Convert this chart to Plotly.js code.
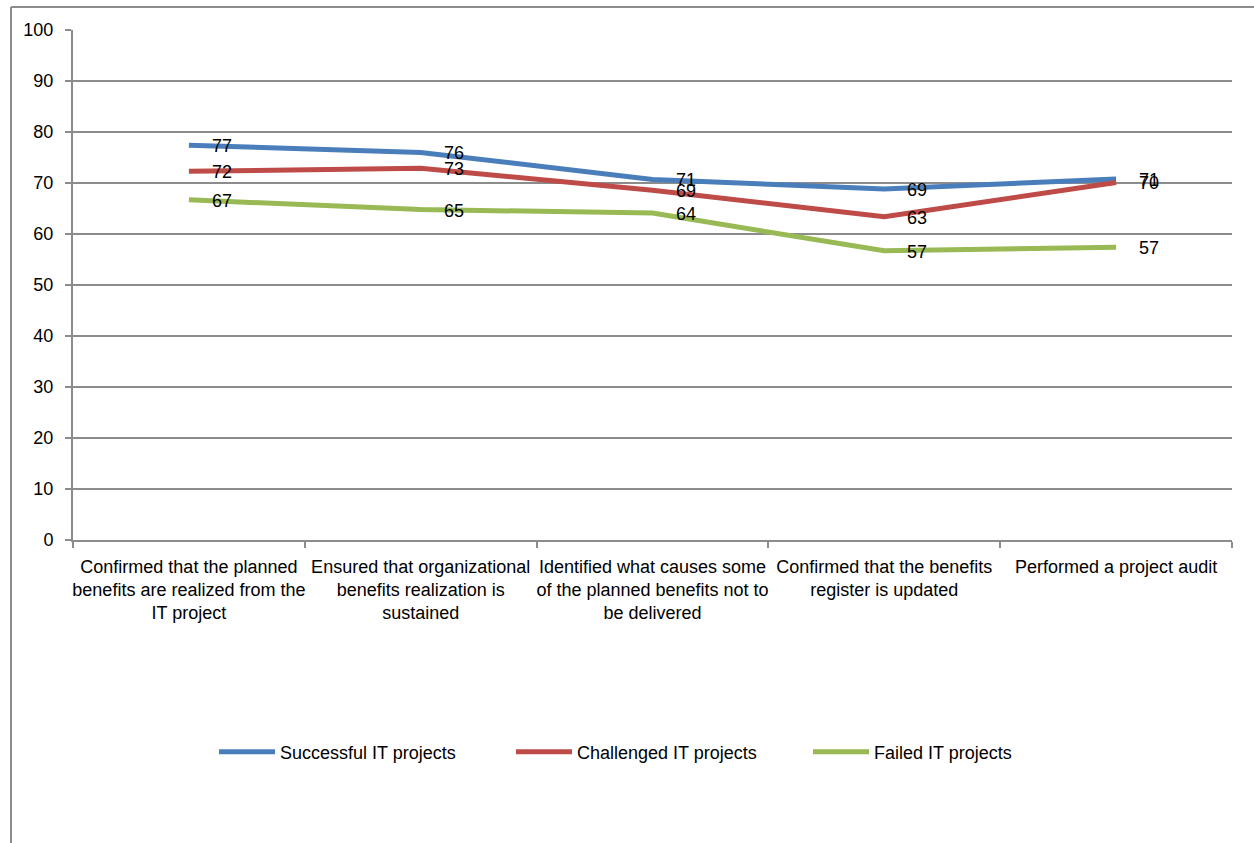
<!DOCTYPE html>
<html>
<head>
<meta charset="utf-8">
<script src="https://cdn.plot.ly/plotly-3.0.1.min.js"></script>
<style>html,body{margin:0;padding:0;background:#fff;}#chart{width:1254px;height:843px;}</style>
</head>
<body>
<div id="chart"></div>
<script>
// ---- data ----
const categories = [
  "Confirmed that the planned<br>benefits are realized from the<br>IT project",
  "Ensured that organizational<br>benefits realization is<br>sustained",
  "Identified what causes some<br>of the planned benefits not to<br>be delivered",
  "Confirmed that the benefits<br>register is updated",
  "Performed a project audit"
];
const seriesNames = ["Successful IT projects", "Challenged IT projects", "Failed IT projects"];
const successful = [77.4, 76.0, 70.7, 68.8, 70.8];
const challenged = [72.3, 72.9, 68.6, 63.4, 70.1];
const failed     = [66.7, 64.8, 64.1, 56.7, 57.4];
const yTicks = [0, 10, 20, 30, 40, 50, 60, 70, 80, 90, 100];

// ---- styling ----
const colors = ["#4A7EBB", "#BE4B48", "#98B954"];
const gridColor = "#8C8C8C";
const FONT = "Liberation Sans, Arial, sans-serif";
const W = 1254, H = 843;
const M = {l: 73, r: 22, t: 30, b: 303};
const pw = W - M.l - M.r, ph = H - M.t - M.b;
const px = x => (x - M.l) / pw;
const py = y => (H - M.b - y) / ph;

const allSeries = [successful, challenged, failed];
const traces = allSeries.map((vals, i) => ({
  type: "scatter",
  mode: "lines",
  x: categories,
  y: vals,
  name: seriesNames[i],
  line: {color: colors[i], width: 5},
  hoverinfo: "skip"
}));

const annotations = [];
allSeries.forEach(vals => {
  vals.forEach((v, j) => {
    annotations.push({
      x: categories[j], y: v, xref: "x", yref: "y",
      text: String(Math.round(v)),
      showarrow: false, xanchor: "left", yanchor: "middle",
      xshift: 21, yshift: -1,
      font: {family: FONT, size: 18, color: "#000"}
    });
  });
});

const layout = {
  width: W, height: H,
  margin: M,
  paper_bgcolor: "#fff", plot_bgcolor: "#fff",
  font: {family: FONT, size: 18, color: "#000"},
  showlegend: true,
  legend: {
    orientation: "h",
    x: px(214), xanchor: "left",
    y: py(752), yanchor: "middle",
    itemwidth: 56,
    entrywidth: 226, entrywidthmode: "pixels",
    font: {family: FONT, size: 18, color: "#000"},
    traceorder: "normal"
  },
  xaxis: {
    type: "category",
    categoryorder: "array", categoryarray: categories,
    range: [-0.5, categories.length - 0.5],
    showgrid: false, zeroline: false,
    showline: true, linecolor: gridColor, linewidth: 2,
    ticks: "outside", tickson: "boundaries", ticklen: 6, tickcolor: gridColor, tickwidth: 2,
    ticklabelstandoff: 9,
    tickfont: {family: FONT, size: 18, color: "#000"},
    tickangle: 0
  },
  yaxis: {
    range: [0, 100],
    tickvals: yTicks,
    showgrid: true, gridcolor: gridColor, gridwidth: 2,
    zeroline: false,
    showline: true, linecolor: gridColor, linewidth: 2,
    ticks: "outside", ticklen: 6, tickcolor: gridColor, tickwidth: 2,
    ticklabelstandoff: 8,
    tickfont: {family: FONT, size: 18, color: "#000"}
  },
  shapes: [
    {type: "line", xref: "paper", yref: "paper", x0: px(11), x1: px(11), y0: py(7), y1: py(845), line: {color: gridColor, width: 2}},
    {type: "line", xref: "paper", yref: "paper", x0: px(11), x1: px(1256), y0: py(7), y1: py(7), line: {color: gridColor, width: 2}}
  ],
  annotations: annotations
};

Plotly.newPlot("chart", traces, layout, {displayModeBar: false, staticPlot: true});
</script>
</body>
</html>
